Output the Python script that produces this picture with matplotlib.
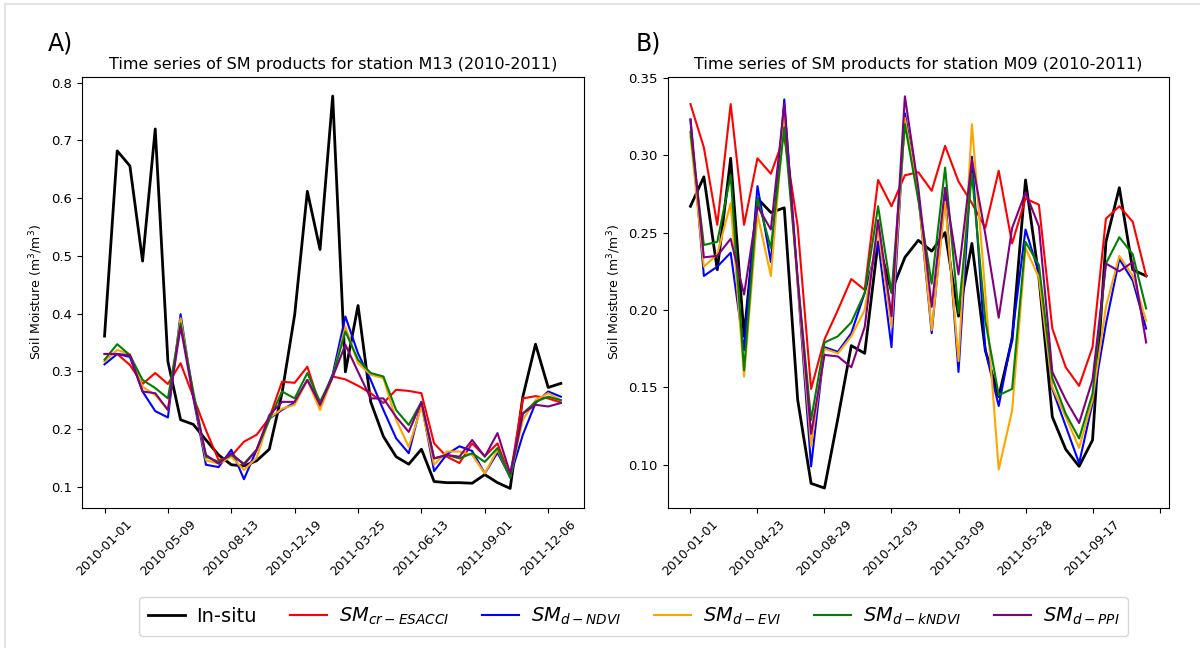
import matplotlib
matplotlib.use("Agg")
import matplotlib.pyplot as plt
from matplotlib.patches import Rectangle
import numpy as np

# station M13 (left panel)
labels_m13 = ['2010-01-01', '2010-05-09', '2010-08-13', '2010-12-19',
              '2011-03-25', '2011-06-13', '2011-09-01', '2011-12-06']
insitu_m13 = [0.361, 0.682, 0.656, 0.491, 0.720, 0.317, 0.216, 0.208, 0.181, 0.155,
              0.138, 0.136, 0.145, 0.165, 0.262, 0.398, 0.612, 0.511, 0.777, 0.299,
              0.414, 0.247, 0.187, 0.152, 0.139, 0.165, 0.109, 0.107, 0.107, 0.106,
              0.121, 0.107, 0.097, 0.256, 0.347, 0.272, 0.279]
esacci_m13 = [0.330, 0.330, 0.311, 0.278, 0.297, 0.278, 0.314, 0.256, 0.198, 0.146,
              0.153, 0.178, 0.190, 0.219, 0.282, 0.280, 0.308, 0.240, 0.291, 0.286,
              0.275, 0.262, 0.245, 0.268, 0.266, 0.262, 0.175, 0.152, 0.141, 0.175,
              0.153, 0.175, 0.117, 0.253, 0.257, 0.253, 0.246]
ndvi_m13 = [0.312, 0.330, 0.325, 0.265, 0.231, 0.220, 0.399, 0.255, 0.138, 0.134,
            0.164, 0.113, 0.164, 0.218, 0.233, 0.246, 0.285, 0.242, 0.295, 0.395,
            0.331, 0.285, 0.233, 0.184, 0.158, 0.245, 0.127, 0.156, 0.170, 0.162,
            0.123, 0.159, 0.117, 0.190, 0.245, 0.265, 0.256]
evi_m13 = [0.317, 0.337, 0.330, 0.273, 0.259, 0.233, 0.392, 0.260, 0.146, 0.140,
           0.152, 0.129, 0.150, 0.219, 0.235, 0.242, 0.285, 0.233, 0.290, 0.377,
           0.314, 0.294, 0.288, 0.216, 0.169, 0.239, 0.138, 0.161, 0.161, 0.155,
           0.123, 0.164, 0.117, 0.216, 0.250, 0.262, 0.250]
kndvi_m13 = [0.320, 0.347, 0.328, 0.285, 0.271, 0.253, 0.383, 0.265, 0.152, 0.143,
             0.155, 0.140, 0.164, 0.216, 0.265, 0.253, 0.297, 0.247, 0.292, 0.369,
             0.320, 0.297, 0.291, 0.233, 0.207, 0.247, 0.149, 0.155, 0.149, 0.158,
             0.143, 0.167, 0.115, 0.227, 0.247, 0.256, 0.250]
ppi_m13 = [0.330, 0.330, 0.328, 0.265, 0.262, 0.233, 0.377, 0.255, 0.155, 0.140,
           0.158, 0.138, 0.164, 0.224, 0.247, 0.247, 0.285, 0.242, 0.290, 0.346,
           0.299, 0.253, 0.253, 0.221, 0.195, 0.247, 0.149, 0.155, 0.152, 0.181,
           0.152, 0.193, 0.123, 0.227, 0.242, 0.239, 0.245]

# station M09 (right panel)
labels_m09 = ['2010-01-01', '2010-04-23', '2010-08-29', '2010-12-03',
              '2011-03-09', '2011-05-28', '2011-09-17']
insitu_m09 = [0.267, 0.286, 0.226, 0.298, 0.183, 0.272, 0.263, 0.266, 0.142, 0.088,
              0.085, 0.130, 0.177, 0.172, 0.244, 0.212, 0.234, 0.245, 0.238, 0.250,
              0.196, 0.243, 0.174, 0.144, 0.181, 0.284, 0.221, 0.131, 0.110, 0.099,
              0.116, 0.244, 0.279, 0.226, 0.222]
esacci_m09 = [0.333, 0.305, 0.255, 0.333, 0.255, 0.298, 0.288, 0.312, 0.254, 0.149,
              0.181, 0.200, 0.220, 0.213, 0.284, 0.267, 0.287, 0.289, 0.277, 0.306,
              0.283, 0.269, 0.253, 0.290, 0.243, 0.272, 0.268, 0.188, 0.163, 0.151,
              0.176, 0.259, 0.267, 0.257, 0.222]
ndvi_m09 = [0.323, 0.222, 0.228, 0.237, 0.174, 0.280, 0.231, 0.336, 0.217, 0.099,
            0.176, 0.173, 0.185, 0.211, 0.244, 0.176, 0.327, 0.275, 0.185, 0.275,
            0.160, 0.299, 0.174, 0.138, 0.183, 0.252, 0.224, 0.149, 0.125, 0.101,
            0.140, 0.191, 0.233, 0.219, 0.188]
evi_m09 = [0.312, 0.228, 0.236, 0.269, 0.157, 0.262, 0.222, 0.325, 0.217, 0.112,
           0.175, 0.172, 0.183, 0.200, 0.252, 0.189, 0.324, 0.275, 0.187, 0.270,
           0.167, 0.320, 0.211, 0.097, 0.135, 0.240, 0.221, 0.150, 0.131, 0.111,
           0.142, 0.202, 0.235, 0.222, 0.193]
kndvi_m09 = [0.315, 0.242, 0.244, 0.287, 0.161, 0.272, 0.240, 0.318, 0.220, 0.129,
             0.179, 0.183, 0.192, 0.211, 0.267, 0.211, 0.320, 0.271, 0.217, 0.292,
             0.198, 0.288, 0.193, 0.145, 0.149, 0.244, 0.229, 0.156, 0.133, 0.117,
             0.146, 0.230, 0.247, 0.236, 0.201]
ppi_m09 = [0.323, 0.234, 0.235, 0.246, 0.210, 0.267, 0.252, 0.333, 0.220, 0.120,
           0.171, 0.170, 0.163, 0.189, 0.258, 0.196, 0.338, 0.279, 0.202, 0.279,
           0.223, 0.297, 0.249, 0.195, 0.253, 0.276, 0.254, 0.160, 0.142, 0.127,
           0.155, 0.230, 0.225, 0.231, 0.179]

names = ['In-situ', r'$SM_{cr-ESACCI}$', r'$SM_{d-NDVI}$', r'$SM_{d-EVI}$',
         r'$SM_{d-kNDVI}$', r'$SM_{d-PPI}$']
colors = ['black', 'red', 'blue', 'orange', 'green', 'purple']
widths = [2.0, 1.5, 1.5, 1.5, 1.5, 1.5]

fig = plt.figure(figsize=(12, 6.48), dpi=100)
ax1 = fig.add_axes([0.0681, 0.2165, 0.4183, 0.6642])
ax2 = fig.add_axes([0.5564, 0.2165, 0.4177, 0.6642])


def draw(ax, series, ticklabels, station, ylim):
    n = len(series[0])
    x = np.arange(n)
    handles = []
    for s, c, w, lab in zip(series, colors, widths, names):
        h, = ax.plot(x, s, color=c, lw=w, label=lab)
        handles.append(h)
    ticks = np.arange(0, n + 1, 5)
    ax.set_xticks(ticks)
    ax.set_xticklabels(ticklabels + [''] * (len(ticks) - len(ticklabels)),
                       rotation=45, fontsize=9)
    ax.tick_params(axis='y', labelsize=9.5)
    ax.set_xlim(-0.05 * (n - 1), (n - 1) * 1.05)
    ax.set_ylim(*ylim)
    ax.set_ylabel('Soil Moisture (m$^3$/m$^3$)', fontsize=9)
    ax.set_title('Time series of SM products for station %s (2010-2011)' % station,
                 fontsize=11.5)
    return handles


h = draw(ax1, [insitu_m13, esacci_m13, ndvi_m13, evi_m13, kndvi_m13, ppi_m13],
         labels_m13, 'M13', (0.0636, 0.8095))
draw(ax2, [insitu_m09, esacci_m09, ndvi_m09, evi_m09, kndvi_m09, ppi_m09],
     labels_m09, 'M09', (0.0723, 0.3503))

fig.text(0.040, 0.922, 'A)', fontsize=17)
fig.text(0.530, 0.922, 'B)', fontsize=17)

fig.legend(h, names, loc='center', bbox_to_anchor=(0.528, 0.0486), ncol=6,
           fontsize=14, handlelength=1.9, handletextpad=0.6, columnspacing=1.7,
           borderpad=0.45)

# thin page frame
fig.patches.append(Rectangle((5 / 1200, -0.1), 1.2, 1.1 - 4 / 648, transform=fig.transFigure,
                             fill=False, edgecolor='#e3e3e3', lw=1.5))

fig.savefig('out.png', dpi=100)
